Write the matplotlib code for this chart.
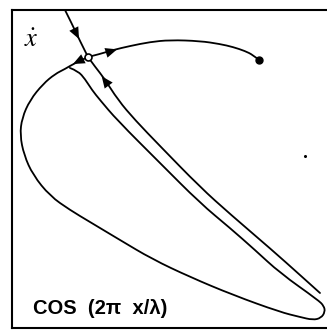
import matplotlib
matplotlib.use("Agg")
import matplotlib.pyplot as plt
from matplotlib.path import Path
from matplotlib.patches import PathPatch
import numpy as np

plt.rcParams['mathtext.fontset'] = 'stix'

# phase portrait traced in frame coordinates (x to the right, y downward)
saddle = (88, 57)

# stable manifold, upper branch (comes in from the top)
stable_top_x = [65, 72, 79, 88]
stable_top_y = [10, 24, 39, 57]

# stable manifold, lower branch (comes in from the lower right)
stable_low_x = [88, 96, 104, 118, 135, 160, 200, 230, 272, 300, 320]
stable_low_y = [57, 68, 78, 100, 120, 146, 187, 214, 250, 275, 293]

# unstable manifold to the right, ending on the attractor dot
unstable_right_x = [88, 100, 113, 130, 150, 170, 200, 220, 233, 245, 253, 259]
unstable_right_y = [57, 54, 50, 46, 42, 40, 41, 44, 47, 51, 55, 60]

# unstable manifold to the left: big loop, round the tip, back up the inside
loop_x = [88, 75, 65, 55, 43, 30, 22, 20, 24, 33, 50, 70, 90, 120, 152, 190,
          233, 280, 300, 313, 321, 325, 324, 318, 280, 255, 230, 200, 160,
          117, 100, 92, 85, 78, 70]
loop_y = [57, 63, 69, 74, 84, 100, 118, 135, 155, 175, 196, 210, 222, 240,
          259, 277, 295, 312, 317, 320, 318, 312, 306, 300, 273, 250, 228,
          203, 163, 120, 100, 90, 79, 71, 68]

attractor = (259, 60)
speck = (305, 156)

# arrow heads: position and direction of flow
arrow_x = [78, 103, 115, 75]
arrow_y = [37, 78, 50, 63]
arrow_dx = [0.45, -0.6, 0.95, -0.9]
arrow_dy = [0.9, -0.8, -0.3, 0.45]


def smooth_path(xs, ys):
    # quadratic pieces through midpoints, so the curve stays smooth
    pts = list(zip(xs, ys))
    verts = [pts[0]]
    codes = [Path.MOVETO]
    for i in range(1, len(pts) - 2):
        mid = ((pts[i][0] + pts[i + 1][0]) / 2, (pts[i][1] + pts[i + 1][1]) / 2)
        verts += [pts[i], mid]
        codes += [Path.CURVE3, Path.CURVE3]
    verts += [pts[-2], pts[-1]]
    codes += [Path.CURVE3, Path.CURVE3]
    return Path(verts, codes)


fig = plt.figure(figsize=(3.27, 3.30), dpi=100)
ax = fig.add_axes([12 / 327, 2 / 330, 315 / 327, 318 / 330])
ax.set_xlim(12, 327)
ax.set_ylim(328, 10)
ax.set_xticks([])
ax.set_yticks([])
ax.spines['right'].set_visible(False)
for s in ['left', 'top', 'bottom']:
    ax.spines[s].set_linewidth(1.5)

for xs, ys in [(stable_top_x, stable_top_y), (stable_low_x, stable_low_y),
               (unstable_right_x, unstable_right_y), (loop_x, loop_y)]:
    ax.add_patch(PathPatch(smooth_path(xs, ys), fill=False, lw=1.3,
                           color='black', capstyle='round'))

for x, y, dx, dy in zip(arrow_x, arrow_y, arrow_dx, arrow_dy):
    ax.annotate('', xy=(x + 5 * dx, y + 5 * dy), xytext=(x - 5 * dx, y - 5 * dy),
                arrowprops=dict(arrowstyle='-|>,head_length=0.7,head_width=0.3',
                                color='black', lw=0, mutation_scale=12))

ax.plot(*saddle, 'o', ms=5, mfc='white', mec='black', mew=1.2, zorder=5)
ax.plot(*attractor, 'o', ms=5, color='black', zorder=5)
ax.plot(*speck, 'o', ms=1.2, color='black')

ax.text(31, 47, r'$\dot{x}$', fontsize=19, ha='center', va='baseline')
ax.text(33, 314, 'COS  (2\u03c0  x/\u03bb)', fontsize=14.5, family='Liberation Sans',
        weight='bold', ha='left', va='baseline')

fig.savefig('out.png', dpi=100)
